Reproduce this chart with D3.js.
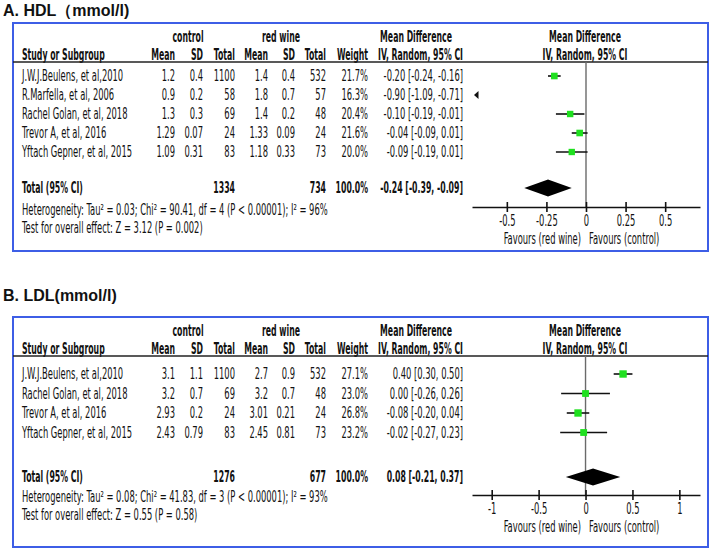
<!DOCTYPE html>
<html><head><meta charset="utf-8">
<script src="https://cdn.jsdelivr.net/npm/d3@7/dist/d3.min.js"></script>
<style>body{margin:0;background:#fff}</style>
</head><body>
<svg id="c" width="711" height="550"></svg>
<script>
// ---------- DATA ----------
const hdlStudies = ["J.W.J.Beulens, et al,2010","R.Marfella, et al, 2006","Rachel Golan, et al, 2018","Trevor A, et al, 2016","Yftach Gepner, et al, 2015"];
const hdlCtrlMean = [1.2, 0.9, 1.3, 1.29, 1.09];
const hdlCtrlSD   = [0.4, 0.2, 0.3, 0.07, 0.31];
const hdlCtrlN    = [1100, 58, 69, 24, 83];
const hdlWineMean = [1.4, 1.8, 1.4, 1.33, 1.18];
const hdlWineSD   = [0.4, 0.7, 0.2, 0.09, 0.33];
const hdlWineN    = [532, 57, 48, 24, 73];
const hdlWeight   = [21.7, 16.3, 20.4, 21.6, 20.0];
const hdlMD       = [-0.20, -0.90, -0.10, -0.04, -0.09];
const hdlLo       = [-0.24, -1.09, -0.19, -0.09, -0.19];
const hdlHi       = [-0.16, -0.71, -0.01, 0.01, 0.01];
const hdlTotal    = {ctrlN:1334, wineN:734, md:-0.24, lo:-0.39, hi:-0.09};
const hdlTicks    = [-0.5, -0.25, 0, 0.25, 0.5];
const hdlHet  = "Heterogeneity: Tau\u00B2 = 0.03; Chi\u00B2 = 90.41, df = 4 (P < 0.00001); I\u00B2 = 96%";
const hdlTest = "Test for overall effect: Z = 3.12 (P = 0.002)";

const ldlStudies = ["J.W.J.Beulens, et al,2010","Rachel Golan, et al, 2018","Trevor A, et al, 2016","Yftach Gepner, et al, 2015"];
const ldlCtrlMean = [3.1, 3.2, 2.93, 2.43];
const ldlCtrlSD   = [1.1, 0.7, 0.2, 0.79];
const ldlCtrlN    = [1100, 69, 24, 83];
const ldlWineMean = [2.7, 3.2, 3.01, 2.45];
const ldlWineSD   = [0.9, 0.7, 0.21, 0.81];
const ldlWineN    = [532, 48, 24, 73];
const ldlWeight   = [27.1, 23.0, 26.8, 23.2];
const ldlMD       = [0.40, 0.00, -0.08, -0.02];
const ldlLo       = [0.30, -0.26, -0.20, -0.27];
const ldlHi       = [0.50, 0.26, 0.04, 0.23];
const ldlTotal    = {ctrlN:1276, wineN:677, md:0.08, lo:-0.21, hi:0.37};
const ldlTicks    = [-1, -0.5, 0, 0.5, 1];
const ldlHet  = "Heterogeneity: Tau\u00B2 = 0.08; Chi\u00B2 = 41.83, df = 3 (P < 0.00001); I\u00B2 = 93%";
const ldlTest = "Test for overall effect: Z = 0.55 (P = 0.58)";

// ---------- DRAW ----------
const svg = d3.select("#c");
const FONT = "'Liberation Sans Narrow','Arial Narrow','DejaVu Sans Condensed',sans-serif";
const FS = 15;
function measure(s, bold) {
  const p = svg.append("text").attr("font-family", FONT).attr("font-size", FS)
    .attr("font-weight", bold ? "bold" : "normal").text(s);
  const w = p.node().getComputedTextLength(); p.remove(); return w;
}
const SX = 306 / measure(hdlHet, false);
const SXB = 85 / measure("IV, Random, 95% CI", true);

function txt(g, x, y, s, anchor, bold) {
  return g.append("text")
    .attr("transform", `translate(${x},${y}) scale(${bold ? SXB : SX},1)`)
    .attr("dy", "0.36em")
    .attr("font-family", FONT).attr("font-size", FS)
    .attr("font-weight", bold ? "bold" : "normal")
    .attr("text-anchor", anchor || "start")
    .attr("fill", "#111")
    .text(s);
}
const f2 = v => v.toFixed(2);
const ciStr = (m, l, h) => `${f2(m)} [${f2(l)}, ${f2(h)}]`;

function panel(cfg) {
  const g = svg.append("g");
  g.append("text").attr("x", 3).attr("y", cfg.titleY)
    .attr("font-family", "'Liberation Sans',Arial,sans-serif").attr("font-size", 16)
    .attr("font-weight", "bold").attr("fill", "#111").text(cfg.title);
  g.append("rect").attr("x", 13).attr("y", cfg.top).attr("width", 695).attr("height", cfg.bottom - cfg.top)
    .attr("fill", "none").attr("stroke", "#3d5ee6").attr("stroke-width", 2);

  const h1 = cfg.top + 13.5, h2 = cfg.top + 32, hl = cfg.top + 39;
  const colX = {cm:175, cs:203, cn:235, wm:268, ws:295, wn:326, w:368, ci:463};
  txt(g, 188, h1, "control", "middle", true);
  txt(g, 281, h1, "red wine", "middle", true);
  txt(g, 416, h1, "Mean Difference", "middle", true);
  txt(g, 585, h1, "Mean Difference", "middle", true);
  txt(g, 22, h2, "Study or Subgroup", "start", true);
  [["cm","Mean"],["cs","SD"],["cn","Total"],["wm","Mean"],["ws","SD"],["wn","Total"],["w","Weight"],["ci","IV, Random, 95% CI"]]
    .forEach(([k, s]) => txt(g, colX[k], h2, s, "end", true));
  txt(g, 585, h2, "IV, Random, 95% CI", "middle", true);
  g.append("line").attr("x1", 13).attr("x2", 708).attr("y1", hl).attr("y2", hl)
    .attr("stroke", "#222").attr("stroke-width", 1.3);

  const x = d3.scaleLinear().domain(cfg.domain).range([472, 700]);
  const rowY = i => cfg.row0 + i * cfg.step;

  g.append("line").attr("x1", x(0)).attr("x2", x(0)).attr("y1", hl).attr("y2", cfg.axisY)
    .attr("stroke", "#6a6a6a").attr("stroke-width", 1.4);

  cfg.studies.forEach((s, i) => {
    const y = rowY(i);
    txt(g, 22, y, s);
    txt(g, colX.cm, y, String(cfg.cm[i]), "end");
    txt(g, colX.cs, y, String(cfg.cs[i]), "end");
    txt(g, colX.cn, y, String(cfg.cn[i]), "end");
    txt(g, colX.wm, y, String(cfg.wm[i]), "end");
    txt(g, colX.ws, y, String(cfg.ws[i]), "end");
    txt(g, colX.wn, y, String(cfg.wn[i]), "end");
    txt(g, colX.w, y, cfg.wt[i].toFixed(1) + "%", "end");
    txt(g, colX.ci, y, ciStr(cfg.md[i], cfg.lo[i], cfg.hi[i]), "end");
    const [d0, d1] = cfg.domain;
    if (cfg.md[i] < d0) {
      const ax = x(d0) + 2;
      g.append("path").attr("d", `M${ax},${y} L${ax + 4.5},${y - 4} L${ax + 4.5},${y + 4} Z`).attr("fill", "#111");
    } else {
      g.append("line").attr("x1", x(Math.max(cfg.lo[i], d0))).attr("x2", x(Math.min(cfg.hi[i], d1)))
        .attr("y1", y).attr("y2", y).attr("stroke", "#111").attr("stroke-width", 1.6);
      const sz = 1.42 * Math.sqrt(cfg.wt[i]);
      g.append("rect").attr("x", x(cfg.md[i]) - sz / 2).attr("y", y - sz / 2)
        .attr("width", sz).attr("height", sz).attr("fill", "#1fe01f");
    }
  });

  const ty = cfg.totalY, t = cfg.total;
  txt(g, 22, ty, "Total (95% CI)", "start", true);
  txt(g, colX.cn, ty, String(t.ctrlN), "end", true);
  txt(g, colX.wn, ty, String(t.wineN), "end", true);
  txt(g, colX.w, ty, "100.0%", "end", true);
  txt(g, colX.ci, ty, ciStr(t.md, t.lo, t.hi), "end", true);
  g.append("path")
    .attr("d", `M${x(t.lo)},${ty} L${x(t.md)},${ty - 8.5} L${x(t.hi)},${ty} L${x(t.md)},${ty + 8.5} Z`)
    .attr("fill", "#000");

  txt(g, 22, cfg.hetY, cfg.het);
  txt(g, 22, cfg.testY, cfg.test);

  const ax = g.append("g").attr("transform", `translate(0,${cfg.axisY})`)
    .call(d3.axisBottom(x).tickValues(cfg.ticks).tickFormat(d => String(d)).tickSizeOuter(0));
  ax.select(".domain").attr("stroke", "#111").attr("stroke-width", 1.6);
  ax.selectAll(".tick line").attr("y1", -5).attr("y2", 5).attr("stroke", "#111").attr("stroke-width", 1.6);
  ax.selectAll(".tick text").attr("y", 0).attr("dy", null)
    .attr("transform", `translate(0,14) scale(${SX},1)`)
    .attr("dominant-baseline", "central")
    .attr("font-family", FONT).attr("font-size", FS).attr("fill", "#111");

  txt(g, 581, cfg.axisY + 32, "Favours (red wine)", "end");
  txt(g, 589, cfg.axisY + 32, "Favours (control)", "start");
}

panel({
  title: "A. HDL\uFF08mmol/l)", titleY: 16, top: 23, bottom: 251,
  studies: hdlStudies, cm: hdlCtrlMean, cs: hdlCtrlSD, cn: hdlCtrlN,
  wm: hdlWineMean, ws: hdlWineSD, wn: hdlWineN, wt: hdlWeight,
  md: hdlMD, lo: hdlLo, hi: hdlHi, total: hdlTotal,
  domain: [-0.72, 0.72], ticks: hdlTicks, het: hdlHet, test: hdlTest,
  row0: 76, step: 19, totalY: 188, hetY: 210, testY: 228, axisY: 207
});
panel({
  title: "B. LDL(mmol/l)", titleY: 301, top: 317, bottom: 547,
  studies: ldlStudies, cm: ldlCtrlMean, cs: ldlCtrlSD, cn: ldlCtrlN,
  wm: ldlWineMean, ws: ldlWineSD, wn: ldlWineN, wt: ldlWeight,
  md: ldlMD, lo: ldlLo, hi: ldlHi, total: ldlTotal,
  domain: [-1.21, 1.22], ticks: ldlTicks, het: ldlHet, test: ldlTest,
  row0: 374, step: 19.5, totalY: 477, hetY: 497, testY: 515, axisY: 495
});
</script>
</body></html>
